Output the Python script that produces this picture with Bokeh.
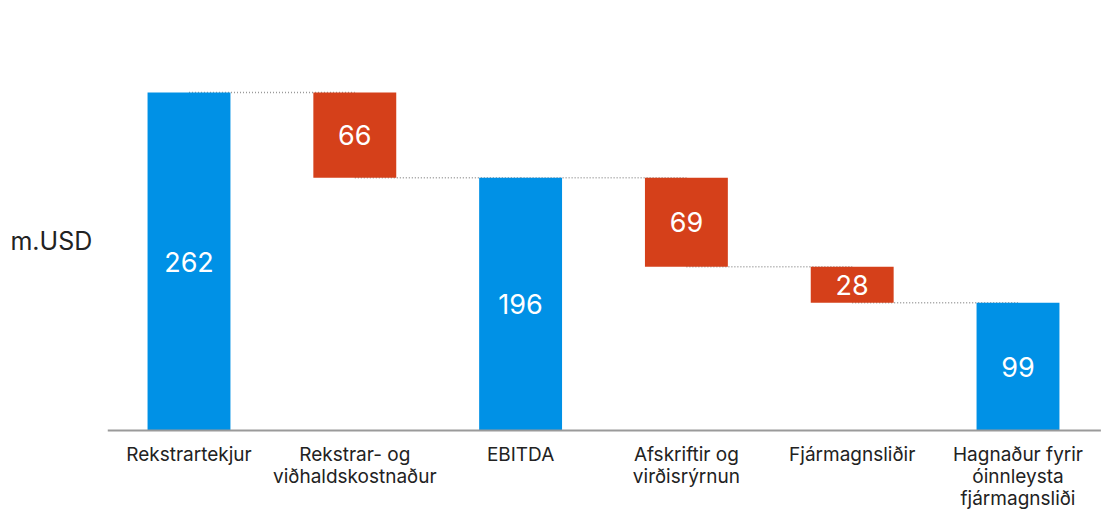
from bokeh.plotting import figure
from bokeh.models import ColumnDataSource
from bokeh.core.properties import value
from bokeh.embed import file_html
from bokeh.resources import INLINE

categories = ["Rekstrartekjur", "Rekstrar- og\nviðhaldskostnaður", "EBITDA",
              "Afskriftir og\nvirðisrýrnun", "Fjármagnsliðir",
              "Hagnaður fyrir\nóinnleysta\nfjármagnsliði"]
values = [262, -66, 196, -69, -28, 99]
is_total = [True, False, True, False, False, True]
unit_label = "m.USD"

BLUE = "#0091E6"
RED = "#D5401A"
FONT = value("Inter")

xs, bottoms, tops, colors, labels, mids = [], [], [], [], [], []
levels = []
level = 0
for i, (v, t) in enumerate(zip(values, is_total)):
    if t:
        b, tp = 0, v
        level = v
        colors.append(BLUE)
    else:
        b, tp = level + v, level
        level = level + v
        colors.append(RED)
    xs.append(i)
    bottoms.append(b)
    tops.append(tp)
    labels.append(str(abs(v)))
    mids.append((b + tp) / 2)
    levels.append(level)

src = ColumnDataSource(dict(x=xs, bottom=bottoms, top=tops, color=colors,
                            label=labels, mid=mids))
seg = ColumnDataSource(dict(x0=xs[:-1], x1=xs[1:], y=levels[:-1]))
cat_src = ColumnDataSource(dict(x=xs, y=[-9.3] * len(xs), text=categories))

p = figure(width=1104, height=516, output_backend="svg", toolbar_location=None,
           x_range=(-1.1369, 5.5217), y_range=(-65.1, 325.6),
           min_border_left=0, min_border_right=0, min_border_top=10,
           min_border_bottom=2)
p.outline_line_color = None
p.grid.visible = False
p.axis.visible = False

# connectors
p.segment(x0="x0", y0="y", x1="x1", y1="y", source=seg,
          line_color="#9a9a9a", line_width=1.5, line_dash="1 2")
# bars
p.vbar(x="x", width=0.5, bottom="bottom", top="top", fill_color="color",
       line_color=None, source=src)
# baseline (category axis)
p.segment(x0=[-0.49], y0=[0], x1=[len(xs) - 0.5], y1=[0],
          line_color="#9a9a9a", line_width=2)
# value labels
p.text(x="x", y="mid", text="label", source=src, text_color="white",
       text_align="center", text_baseline="middle", text_font_size="27px",
       text_font=FONT)
# category labels
p.text(x="x", y="y", text="text", source=cat_src, text_color="#222222",
       text_align="center", text_baseline="top", text_font_size="19px",
       text_line_height=0.96, text_font=FONT)
# unit label
p.text(x=[-1.077], y=[147], text=[unit_label], text_color="#222222",
       text_align="left", text_baseline="middle", text_font_size="25px",
       text_font=FONT)

open("out.html", "w").write(file_html(p, INLINE))
